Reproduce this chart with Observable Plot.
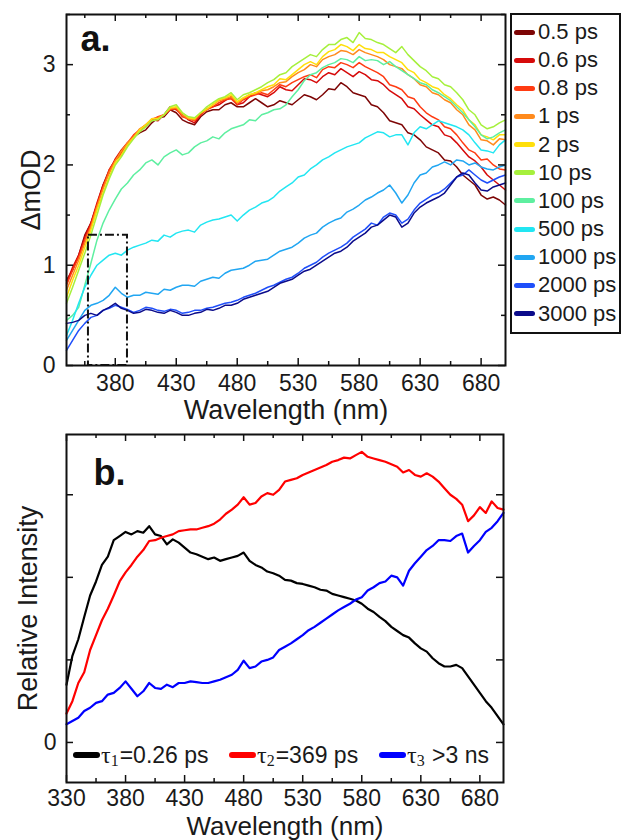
<!DOCTYPE html>
<html><head><meta charset="utf-8">
<script src="https://cdn.jsdelivr.net/npm/d3@7"></script>
<script src="https://cdn.jsdelivr.net/npm/@observablehq/plot@0.6"></script>
<style>
body{margin:0;background:#fff;font-family:"Liberation Sans",Arial,sans-serif;}
#wrap{position:relative;width:621px;height:840px;overflow:hidden;background:#fff}
.chart{position:absolute;left:0}
#legA{position:absolute;left:510px;top:13px;width:107px;height:317px;border:2px solid #111;background:#fff}
.row{position:absolute;left:0;height:28px;display:flex;align-items:center;font-size:22px;color:#1a1a1a;white-space:nowrap}
.sw{display:inline-block;width:21px;height:5px;border-radius:3px;margin-left:2px;margin-right:3px}
.itemB{position:absolute;top:741px;height:28px;display:flex;align-items:center;font-size:23px;color:#1a1a1a;white-space:nowrap}
.itemB .sw{width:27px;height:6px;margin-left:0;margin-right:1px}
.tau{font-family:"Liberation Serif","DejaVu Serif",serif;font-size:24px}
.sub{font-family:"Liberation Serif",serif;font-size:16px;position:relative;top:6px;margin-right:1px}
</style></head>
<body><div id="wrap"></div>
<script>
// ---------- Panel a: transient absorption spectra ----------
const wlA = [340,345,350,355,360,365,370,375,380,385,390,395,400,405,410,415,420,425,430,435,440,445,450,455,460,465,470,475,480,485,490,495,500,505,510,515,520,525,530,535,540,545,550,555,560,565,570,575,580,585,590,595,600,605,610,615,620,625,630,635,640,645,650,655,660,665,670,675,680,685,690,695,700];
const topLabels = ["0.5 ps","0.6 ps","0.8 ps","1 ps","2 ps","10 ps","100 ps","500 ps","1000 ps","2000 ps","3000 ps"];
const topColors = ["#7d0505","#d60a0a","#ff3b12","#ff8a1c","#ffdf0a","#a6f03c","#5eefa0","#22e6f2","#21a6f2","#1f4ffa","#0b0b8a"];
const s05 = [0.85,0.95,1.1,1.3,1.42,1.6,1.8,1.95,2.05,2.1,2.2,2.28,2.32,2.35,2.42,2.47,2.48,2.55,2.52,2.45,2.42,2.4,2.48,2.53,2.55,2.55,2.6,2.62,2.58,2.58,2.62,2.66,2.62,2.58,2.6,2.64,2.62,2.6,2.65,2.7,2.68,2.65,2.7,2.76,2.75,2.82,2.78,2.72,2.7,2.68,2.6,2.58,2.52,2.44,2.42,2.4,2.32,2.3,2.25,2.18,2.15,2.12,2.05,2.04,1.98,1.9,1.85,1.8,1.7,1.66,1.68,1.65,1.6];
const s06 = [0.82,0.98,1.1,1.28,1.42,1.62,1.8,1.92,2.06,2.15,2.22,2.27,2.35,2.4,2.45,2.44,2.5,2.58,2.55,2.5,2.45,2.42,2.5,2.56,2.58,2.6,2.64,2.68,2.6,2.62,2.68,2.72,2.7,2.68,2.72,2.78,2.75,2.74,2.8,2.86,2.85,2.82,2.88,2.92,2.9,2.96,2.92,2.88,2.93,2.9,2.85,2.84,2.8,2.74,2.7,2.66,2.58,2.56,2.5,2.45,2.4,2.38,2.3,2.28,2.22,2.15,2.08,2.04,1.98,1.9,1.85,1.8,1.75];
const s08 = [0.8,0.95,1.08,1.25,1.4,1.6,1.78,1.95,2.05,2.12,2.22,2.3,2.35,2.38,2.45,2.48,2.5,2.55,2.56,2.48,2.46,2.44,2.5,2.55,2.58,2.62,2.65,2.66,2.6,2.65,2.68,2.7,2.72,2.7,2.75,2.8,2.78,2.82,2.85,2.88,2.9,2.87,2.95,2.98,2.97,3.02,3.0,2.97,3.02,2.98,2.95,2.92,2.88,2.8,2.78,2.75,2.68,2.66,2.58,2.52,2.48,2.45,2.38,2.36,2.3,2.22,2.15,2.12,2.05,2.06,2.0,1.96,1.95];
const s1 = [0.75,0.9,1.05,1.22,1.38,1.58,1.76,1.92,2.04,2.14,2.22,2.28,2.36,2.4,2.46,2.47,2.5,2.56,2.57,2.5,2.46,2.45,2.52,2.55,2.6,2.64,2.66,2.68,2.62,2.66,2.7,2.71,2.74,2.75,2.78,2.82,2.83,2.88,2.92,2.95,3.0,2.98,3.05,3.08,3.1,3.14,3.13,3.1,3.15,3.12,3.1,3.08,3.05,3.0,2.98,2.96,2.9,2.86,2.8,2.78,2.72,2.7,2.65,2.62,2.55,2.5,2.4,2.35,2.25,2.24,2.2,2.26,2.25];
const s2 = [0.68,0.85,1.0,1.18,1.35,1.55,1.72,1.88,2.02,2.1,2.2,2.27,2.35,2.4,2.46,2.46,2.5,2.57,2.58,2.52,2.47,2.46,2.52,2.56,2.6,2.65,2.67,2.7,2.63,2.67,2.7,2.72,2.75,2.78,2.8,2.86,2.85,2.9,2.95,3.0,3.03,3.0,3.08,3.13,3.15,3.2,3.18,3.14,3.2,3.16,3.15,3.12,3.12,3.08,3.05,3.02,2.95,2.92,2.85,2.82,2.78,2.76,2.7,2.66,2.6,2.55,2.45,2.4,2.3,2.28,2.25,2.3,2.3];
const s10 = [0.62,0.78,0.95,1.12,1.3,1.5,1.7,1.86,2.0,2.08,2.18,2.26,2.33,2.38,2.44,2.45,2.5,2.58,2.6,2.52,2.48,2.47,2.52,2.58,2.62,2.66,2.68,2.72,2.65,2.7,2.72,2.75,2.78,2.82,2.85,2.9,2.92,2.98,3.02,3.06,3.1,3.08,3.15,3.2,3.2,3.25,3.27,3.22,3.32,3.26,3.25,3.22,3.2,3.16,3.12,3.18,3.1,3.04,2.98,2.94,2.88,2.86,2.8,2.78,2.72,2.65,2.55,2.5,2.4,2.36,2.38,2.42,2.45];
const s100 = [0.45,0.5,0.58,0.8,1.02,1.25,1.42,1.55,1.66,1.76,1.82,1.9,1.95,2.02,2.05,2.0,2.08,2.12,2.15,2.1,2.12,2.18,2.22,2.24,2.28,2.26,2.32,2.36,2.38,2.4,2.45,2.44,2.5,2.52,2.55,2.56,2.6,2.68,2.75,2.84,2.9,2.92,2.97,3.0,3.02,3.06,3.05,3.02,3.08,3.04,3.05,3.04,3.0,3.03,2.98,2.94,2.9,2.86,2.82,2.8,2.75,2.72,2.68,2.64,2.58,2.52,2.45,2.38,2.3,2.26,2.28,2.32,2.35];
const s500 = [0.3,0.45,0.62,0.78,0.9,1.0,1.05,1.1,1.12,1.1,1.15,1.18,1.2,1.22,1.25,1.24,1.3,1.28,1.32,1.34,1.35,1.33,1.4,1.43,1.45,1.46,1.48,1.5,1.44,1.5,1.55,1.58,1.62,1.64,1.68,1.74,1.78,1.82,1.88,1.9,1.96,2.0,2.05,2.08,2.12,2.15,2.18,2.2,2.22,2.27,2.3,2.33,2.32,2.28,2.3,2.3,2.2,2.32,2.38,2.36,2.4,2.44,2.42,2.4,2.38,2.35,2.3,2.22,2.15,2.14,2.12,2.2,2.25];
const s1000 = [0.25,0.35,0.45,0.55,0.6,0.62,0.65,0.7,0.78,0.72,0.68,0.7,0.7,0.73,0.72,0.71,0.76,0.75,0.78,0.8,0.8,0.79,0.84,0.86,0.88,0.87,0.92,0.95,0.96,0.97,1.0,1.04,1.05,1.06,1.1,1.14,1.16,1.18,1.22,1.27,1.3,1.32,1.38,1.42,1.45,1.47,1.53,1.56,1.6,1.65,1.68,1.72,1.75,1.8,1.72,1.62,1.7,1.82,1.9,1.92,1.98,2.0,2.03,2.0,2.05,2.04,2.0,2.02,1.98,1.96,1.95,1.98,2.0];
const s2000 = [0.15,0.25,0.35,0.42,0.48,0.5,0.55,0.57,0.6,0.58,0.56,0.53,0.55,0.58,0.57,0.55,0.54,0.56,0.55,0.52,0.53,0.55,0.55,0.57,0.58,0.6,0.62,0.63,0.65,0.68,0.7,0.72,0.75,0.78,0.8,0.83,0.86,0.88,0.92,0.97,1.0,1.03,1.08,1.12,1.15,1.18,1.22,1.28,1.32,1.36,1.42,1.4,1.48,1.52,1.5,1.42,1.46,1.55,1.62,1.66,1.7,1.72,1.76,1.82,1.88,1.9,1.95,1.9,1.85,1.82,1.85,1.88,1.9];
const s3000 = [0.42,0.43,0.45,0.5,0.52,0.5,0.55,0.58,0.62,0.57,0.55,0.52,0.53,0.56,0.55,0.53,0.52,0.55,0.53,0.5,0.5,0.52,0.53,0.56,0.55,0.57,0.6,0.6,0.62,0.66,0.68,0.7,0.72,0.74,0.78,0.82,0.84,0.86,0.9,0.94,0.96,1.0,1.04,1.08,1.12,1.14,1.18,1.24,1.28,1.32,1.38,1.4,1.45,1.5,1.48,1.38,1.42,1.52,1.58,1.62,1.65,1.68,1.72,1.8,1.88,1.92,1.9,1.82,1.75,1.74,1.78,1.8,1.82];
const topSeries = [s05,s06,s08,s1,s2,s10,s100,s500,s1000,s2000,s3000];
const xDomA = [340,700], yDomA = [0,3.5];
const xMajorA = [380,430,480,530,580,630,680];
const xMinorA = [355,405,455,505,555,605,655];
const yMajorA = [0,1,2,3];
const yMinorA = [0.5,1.5,2.5,3.5];
const boxA = {x1: 358, x2: 390, y1: 0, y2: 1.3};

// ---------- Panel b: decay-associated spectra ----------
const wlB = [330,335,340,345,350,355,360,365,370,375,380,385,390,395,400,405,410,415,420,425,430,435,440,445,450,455,460,465,470,475,480,485,490,495,500,505,510,515,520,525,530,535,540,545,550,555,560,565,570,575,580,585,590,595,600,605,610,615,620,625,630,635,640,645,650,655,660,665,670,675,680,685,690,695,700];
const botLabels = ["τ1=0.26 ps","τ2=369 ps","τ3 >3 ns"];
const botColors = ["#000000","#ff0000","#0000ff"];
const tau1 = [0.7,1.05,1.25,1.52,1.78,1.95,2.15,2.25,2.45,2.5,2.55,2.52,2.56,2.54,2.62,2.52,2.5,2.4,2.46,2.42,2.36,2.3,2.28,2.25,2.22,2.24,2.2,2.22,2.24,2.26,2.3,2.2,2.15,2.12,2.07,2.05,2.02,1.97,1.96,1.93,1.92,1.9,1.88,1.85,1.84,1.8,1.78,1.76,1.74,1.72,1.68,1.62,1.58,1.52,1.47,1.4,1.35,1.3,1.27,1.2,1.14,1.1,1.02,0.96,0.92,0.92,0.94,0.9,0.8,0.7,0.6,0.5,0.42,0.32,0.22];
const tau2 = [0.35,0.5,0.72,0.85,1.12,1.3,1.48,1.62,1.78,1.95,2.06,2.15,2.25,2.33,2.44,2.45,2.48,2.5,2.52,2.56,2.57,2.58,2.58,2.6,2.62,2.65,2.7,2.77,2.82,2.88,2.97,2.88,2.9,2.98,3.02,3.0,3.06,3.16,3.18,3.2,3.24,3.27,3.3,3.33,3.36,3.4,3.42,3.45,3.44,3.48,3.52,3.46,3.44,3.42,3.4,3.37,3.34,3.27,3.3,3.24,3.22,3.26,3.22,3.16,3.08,3.0,2.95,2.88,2.68,2.75,2.85,2.78,2.92,2.84,2.82];
const tau3 = [0.22,0.26,0.3,0.38,0.42,0.48,0.5,0.58,0.6,0.66,0.74,0.65,0.56,0.62,0.72,0.66,0.65,0.7,0.67,0.72,0.72,0.74,0.73,0.72,0.72,0.74,0.76,0.79,0.82,0.88,0.99,0.9,0.92,0.98,1.0,1.03,1.12,1.16,1.2,1.25,1.3,1.36,1.4,1.45,1.5,1.55,1.6,1.64,1.68,1.73,1.76,1.84,1.88,1.93,1.95,2.02,2.0,1.9,2.08,2.17,2.25,2.33,2.38,2.45,2.45,2.44,2.5,2.53,2.3,2.38,2.45,2.55,2.6,2.68,2.78];
const botSeries = [tau1,tau2,tau3];
const xDomB = [330,700], yDomB = [-0.485,3.73];
const xMajorB = [330,380,430,480,530,580,630,680];
const xMinorB = [355,405,455,505,555,605,655];
const yMajorB = [0,1,2,3];
const yLabelB = [0];

const font = '"Liberation Sans", Arial, sans-serif';
const fmt = d => String(d);

function inwardTicks(xDom, yDom, pw, ph, xMaj, xMin, yMaj, yMin) {
  const ux = (xDom[1]-xDom[0]) / pw, uy = (yDom[1]-yDom[0]) / ph;
  const L = 7, l = 4, sw = 1.5, st = "#111";
  const m = [];
  const xs = [[xMaj, L], [xMin, l]], ys = [[yMaj, L], [yMin, l]];
  for (const [arr, len] of xs) {
    m.push(Plot.ruleX(arr, {x: d => d, y1: yDom[0], y2: yDom[0] + len*uy, stroke: st, strokeWidth: sw}));
    m.push(Plot.ruleX(arr, {x: d => d, y1: yDom[1], y2: yDom[1] - len*uy, stroke: st, strokeWidth: sw}));
  }
  for (const [arr, len] of ys) {
    m.push(Plot.ruleY(arr, {y: d => d, x1: xDom[0], x2: xDom[0] + len*ux, stroke: st, strokeWidth: sw}));
    m.push(Plot.ruleY(arr, {y: d => d, x1: xDom[1], x2: xDom[1] - len*ux, stroke: st, strokeWidth: sw}));
  }
  return m;
}

// ---- top chart
const W = 510, H = 420;
const mA = {l: 66, r: 5, t: 14, b: 55};
const topRows = topLabels.flatMap((s, i) => wlA.map((w, j) => ({w, v: topSeries[i][j], s})));
const chartA = Plot.plot({
  width: W, height: H,
  marginLeft: mA.l, marginRight: mA.r, marginTop: mA.t, marginBottom: mA.b,
  style: {fontFamily: font, fontSize: "23px", color: "#1a1a1a", background: "transparent", overflow: "visible"},
  x: {domain: xDomA},
  y: {domain: yDomA},
  color: {domain: topLabels, range: topColors},
  marks: [
    Plot.line(topRows, {x: "w", y: "v", stroke: "s", z: "s", strokeWidth: 1.5}),
    Plot.rect([boxA], {x1: "x1", x2: "x2", y1: "y1", y2: "y2", fill: "none", stroke: "#111", strokeWidth: 2, strokeDasharray: "9,3,2,3"}),
    Plot.frame({stroke: "#111", strokeWidth: 2}),
    ...inwardTicks(xDomA, yDomA, W - mA.l - mA.r, H - mA.t - mA.b, xMajorA, xMinorA, yMajorA, yMinorA),
    Plot.axisX(xMajorA, {tickSize: 0, tickPadding: 9, fontSize: 23, tickFormat: fmt, label: null}),
    Plot.axisY(yMajorA, {tickSize: 0, tickPadding: 11, fontSize: 23, tickFormat: fmt, label: null}),
    Plot.text(["Wavelength (nm)"], {frameAnchor: "bottom", text: d => d, textAnchor: "middle", lineAnchor: "top", dy: 34, fontSize: 27, fill: "#1a1a1a"}),
    Plot.text(["ΔmOD"], {frameAnchor: "left", text: d => d, textAnchor: "middle", lineAnchor: "middle", rotate: -90, dx: -35, fontSize: 27, fill: "#1a1a1a"}),
    Plot.text(["a."], {frameAnchor: "top-left", text: d => d, textAnchor: "start", lineAnchor: "top", dx: 14, dy: 11, fontSize: 36, fontWeight: "bold", fill: "#111"})
  ]
});
chartA.classList.add("chart");
chartA.style.top = "0px";

// ---- bottom chart
const mB = {l: 66, r: 7, t: 14, b: 58};
const botRows = botLabels.flatMap((s, i) => wlB.map((w, j) => ({w, v: botSeries[i][j], s})));
const chartB = Plot.plot({
  width: W, height: H,
  marginLeft: mB.l, marginRight: mB.r, marginTop: mB.t, marginBottom: mB.b,
  style: {fontFamily: font, fontSize: "23px", color: "#1a1a1a", background: "transparent", overflow: "visible"},
  x: {domain: xDomB},
  y: {domain: yDomB},
  color: {domain: botLabels, range: botColors},
  marks: [
    Plot.line(botRows, {x: "w", y: "v", stroke: "s", z: "s", strokeWidth: 2.2}),
    Plot.frame({stroke: "#111", strokeWidth: 2}),
    ...inwardTicks(xDomB, yDomB, W - mB.l - mB.r, H - mB.t - mB.b, xMajorB, xMinorB, yMajorB, []),
    Plot.axisX(xMajorB, {tickSize: 0, tickPadding: 7, fontSize: 23, tickFormat: fmt, label: null}),
    Plot.axisY(yLabelB, {tickSize: 0, tickPadding: 10, fontSize: 23, tickFormat: fmt, label: null}),
    Plot.text(["Wavelength (nm)"], {frameAnchor: "bottom", text: d => d, textAnchor: "middle", lineAnchor: "top", dy: 34, fontSize: 26, fill: "#1a1a1a"}),
    Plot.text(["Relative Intensity"], {frameAnchor: "left", text: d => d, textAnchor: "middle", lineAnchor: "middle", rotate: -90, dx: -38, fontSize: 27, fill: "#1a1a1a"}),
    Plot.text(["b."], {frameAnchor: "top-left", text: d => d, textAnchor: "start", lineAnchor: "top", dx: 27, dy: 25, fontSize: 36, fontWeight: "bold", fill: "#111"})
  ]
});
chartB.classList.add("chart");
chartB.style.top = "420px";

const wrap = document.getElementById("wrap");
wrap.appendChild(chartA);
wrap.appendChild(chartB);

// ---- legend a
const legA = document.createElement("div");
legA.id = "legA";
wrap.appendChild(legA);
topLabels.forEach((lab, i) => {
  const r = document.createElement("div");
  r.className = "row";
  r.style.top = (3 + i * 28.15) + "px";
  r.innerHTML = `<span class="sw" style="background:${topColors[i]}"></span><span>${lab}</span>`;
  legA.appendChild(r);
});

// ---- legend b (τ with subscripts)
const legBParts = [["1","=0.26 ps"],["2","=369 ps"],["3","&nbsp;&gt;3 ns"]];
const legBLeft = [73, 229, 379];
legBParts.forEach(([sub, rest], i) => {
  const item = document.createElement("div");
  item.className = "itemB";
  item.style.left = legBLeft[i] + "px";
  item.innerHTML = `<span class="sw" style="background:${botColors[i]}"></span><span class="tau">τ</span><span class="sub">${sub}</span><span>${rest}</span>`;
  wrap.appendChild(item);
});
</script>
</body></html>
